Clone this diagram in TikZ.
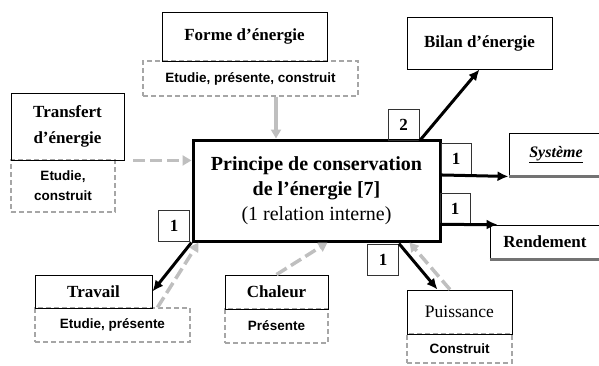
\documentclass[tikz,border=0pt]{standalone}
\usepackage{fontspec}
\setmainfont{Liberation Serif}
\setsansfont{Liberation Sans}
\usetikzlibrary{arrows.meta}

\begin{document}
\begin{tikzpicture}
[x=1pt,y=-1pt,
box/.style={draw,line width=0.9pt,inner sep=2pt,align=center,font=\fontsize{17}{26}\selectfont\bfseries},
dbox/.style={draw=black!35,dash pattern=on 5pt off 3pt,line width=1.2pt,inner sep=2pt,align=center,font=\sffamily\bfseries\fontsize{13.5}{20}\selectfont},
num/.style={draw=black!80,line width=0.9pt,minimum width=31pt,minimum height=31pt,inner sep=0pt,font=\fontsize{17}{20}\selectfont\bfseries},
link/.style={line width=3pt,-{Latex[length=11pt,width=10pt]}},
feed/.style={draw=black!25,line width=3.5pt,dash pattern=on 12pt off 5pt,-{Triangle[length=9pt,width=10pt]}}]
\useasboundingbox (0,0) rectangle (599,365);
% dashed boxes
\node[dbox,minimum width=215pt,minimum height=35pt] (formeD) at (250.5,78.5) {Etudie, présente, construit};
\node[dbox,minimum width=104pt,minimum height=52pt] (transfertD) at (63,186) {Etudie,\\construit};
\node[dbox,minimum width=155pt,minimum height=34pt] (travailD) at (112.5,325) {Etudie, présente};
\node[dbox,minimum width=103pt,minimum height=34pt] (chaleurD) at (276.5,326) {Présente};
\node[dbox,minimum width=105pt,minimum height=29pt] (puissanceD) at (459.5,348.5) {Construit};
% boxes
\node[box,minimum width=165pt,minimum height=49pt] (forme) at (244.5,36.5) {Forme d'énergie};
\node[box,minimum width=113pt,minimum height=67pt] (transfert) at (67.5,126.5) {Transfert\\d'énergie};
\node[box,minimum width=117pt,minimum height=33pt] (travail) at (93.5,291.5) {Travail};
\node[box,minimum width=103pt,minimum height=34pt] (chaleur) at (276.5,292) {Chaleur};
\node[box,minimum width=105pt,minimum height=44pt,font=\fontsize{17.5}{20}\selectfont] (puissance) at (459.5,312) {Puissance};
\node[box,minimum width=145pt,minimum height=52pt] (bilan) at (479.5,43) {Bilan d'énergie};
\node[box,minimum width=94pt,minimum height=43pt,font=\fontsize{16}{20}\selectfont\bfseries\itshape] (systeme) at (556,154.5) {\underline{Système}};
\node[box,minimum width=110pt,minimum height=34pt] (rendement) at (545,242) {Rendement};
\draw[black!55,line width=2.5pt] (systeme.south west) -- (systeme.south east);
\draw[black!55,line width=2.5pt] (rendement.south west) -- (rendement.south east);
\node[draw,line width=3pt,minimum width=247pt,minimum height=101pt,align=center,
  font=\fontsize{20}{25}\selectfont] (main) at (316.5,190.5)
  {\textbf{Principe de conservation}\\\textbf{de l'énergie [7]}\\(1 relation interne)};
% numbers
\node[num] (n2) at (403.5,125) {2};
\node[num,minimum width=30pt] (nsys) at (456,159) {1};
\node[num,minimum width=30pt] (nrend) at (455,208.5) {1};
\node[num] (npuis) at (383,259.5) {1};
\node[num] (ntrav) at (174,225.5) {1};
% arrows
\draw[feed,solid] ([xshift=25.5pt]formeD.south) -- ([xshift=25.5pt]formeD.south |- main.north);
\draw[feed] ([xshift=9pt]transfert.south east) -- (transfert.south east -| main.west);
\draw[feed] ([xshift=45pt]travailD.north) -- ([xshift=7pt]main.south west);
\draw[feed] (chaleur.north) -- ([xshift=11pt]main.south);
\draw[feed] ([xshift=-9.5pt]puissance.north) -- ([xshift=-32pt]main.south east);
\draw[link] (n2.south east) -- (bilan.south);
\draw[link] (nsys.south west) -- (systeme.south west);
\draw[link] (nrend.south west) -- ([xshift=8pt]rendement.north west);
\draw[link] (npuis.north east) -- ([xshift=-22pt]puissance.north);
\draw[link] (main.south west) -- (travail.east);
\end{tikzpicture}
\end{document}
